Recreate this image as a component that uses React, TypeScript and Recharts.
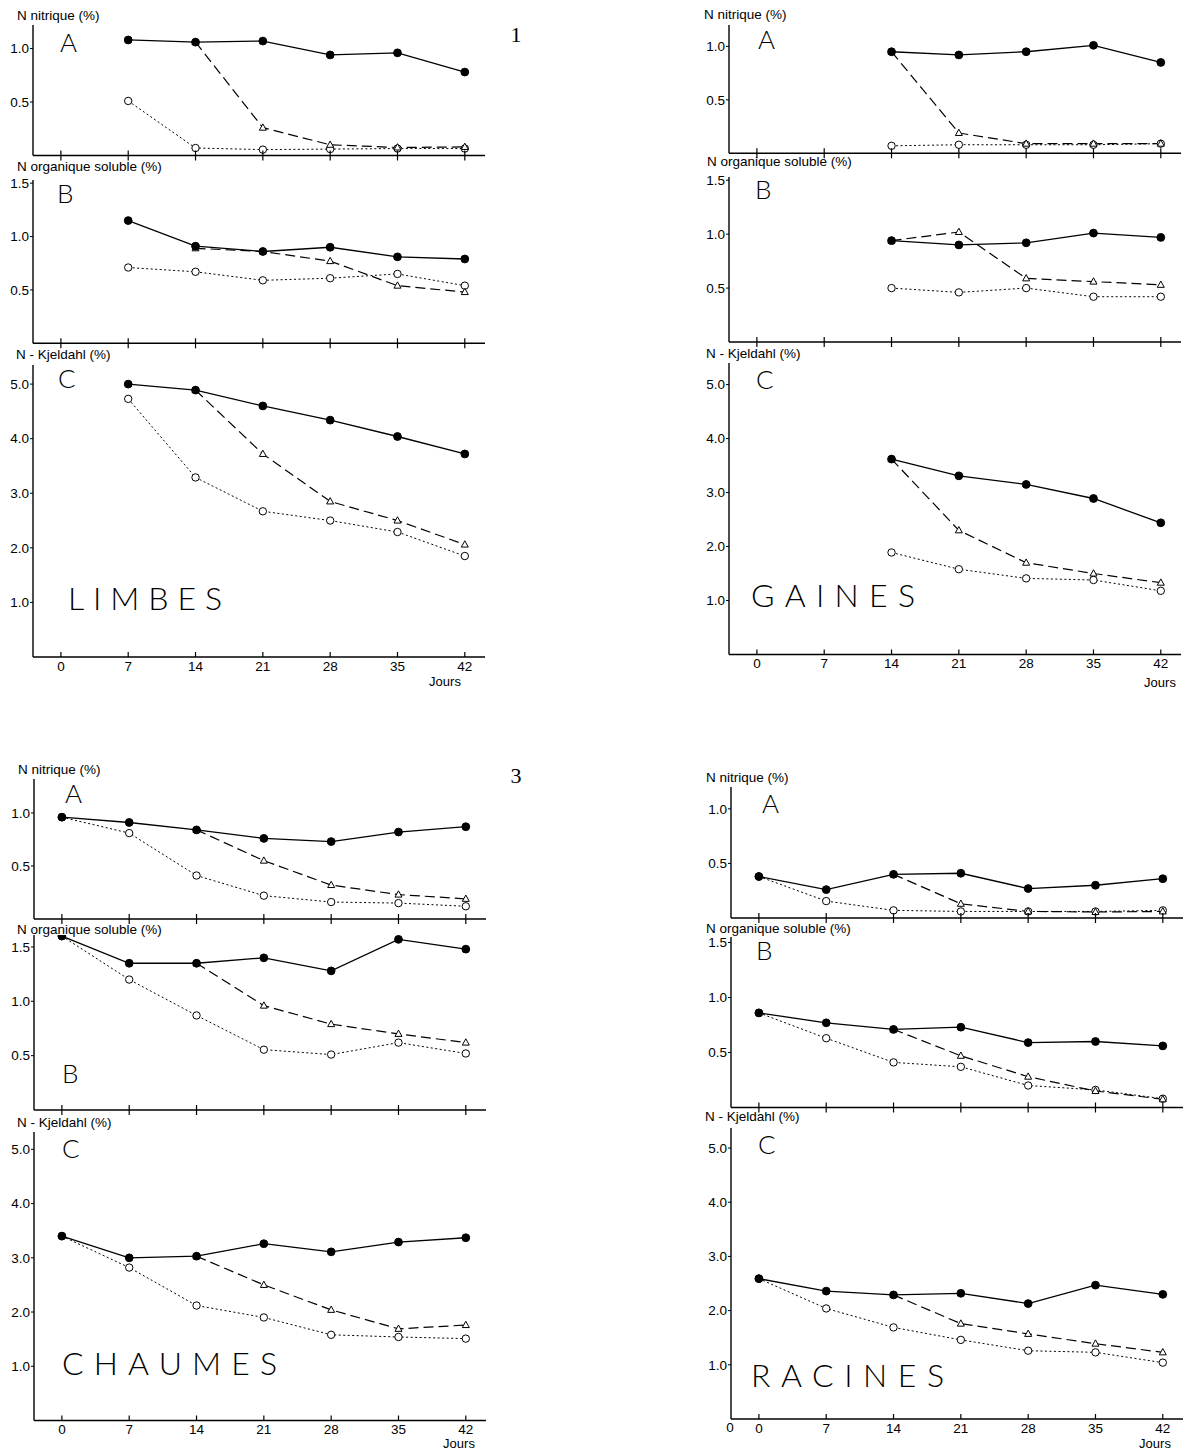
import { LineChart, Line, XAxis, YAxis } from 'recharts';

// jours de prélèvement
const days = [0, 7, 14, 21, 28, 35, 42];

// plein = ●, tri = △ (tirets), rond = ○ (pointillés)
const limbesNitPlein = [null, 1.08, 1.06, 1.07, 0.94, 0.96, 0.78];
const limbesNitTri = [null, null, 1.06, 0.26, 0.1, 0.075, 0.08];
const limbesNitRond = [null, 0.51, 0.07, 0.055, 0.06, 0.065, 0.065];
const limbesOrgPlein = [null, 1.15, 0.91, 0.86, 0.9, 0.81, 0.79];
const limbesOrgTri = [null, null, 0.89, 0.86, 0.77, 0.54, 0.48];
const limbesOrgRond = [null, 0.71, 0.67, 0.59, 0.61, 0.65, 0.54];
const limbesKjPlein = [null, 5.0, 4.89, 4.6, 4.34, 4.04, 3.72];
const limbesKjTri = [null, null, 4.89, 3.72, 2.85, 2.5, 2.06];
const limbesKjRond = [null, 4.73, 3.29, 2.67, 2.5, 2.29, 1.85];

const gainesNitPlein = [null, null, 0.95, 0.92, 0.95, 1.01, 0.85];
const gainesNitTri = [null, null, 0.95, 0.19, 0.09, 0.09, 0.09];
const gainesNitRond = [null, null, 0.07, 0.08, 0.08, 0.08, 0.09];
const gainesOrgPlein = [null, null, 0.94, 0.9, 0.92, 1.01, 0.97];
const gainesOrgTri = [null, null, 0.94, 1.02, 0.59, 0.56, 0.53];
const gainesOrgRond = [null, null, 0.5, 0.46, 0.5, 0.42, 0.42];
const gainesKjPlein = [null, null, 3.62, 3.31, 3.15, 2.89, 2.44];
const gainesKjTri = [null, null, 3.62, 2.3, 1.7, 1.5, 1.33];
const gainesKjRond = [null, null, 1.89, 1.58, 1.41, 1.38, 1.18];

const chaumesNitPlein = [0.96, 0.91, 0.84, 0.76, 0.73, 0.82, 0.87];
const chaumesNitTri = [null, null, 0.84, 0.55, 0.32, 0.23, 0.19];
const chaumesNitRond = [0.96, 0.81, 0.41, 0.22, 0.16, 0.15, 0.12];
const chaumesOrgPlein = [1.6, 1.35, 1.35, 1.4, 1.28, 1.57, 1.48];
const chaumesOrgTri = [null, null, 1.35, 0.96, 0.79, 0.7, 0.62];
const chaumesOrgRond = [1.6, 1.2, 0.87, 0.555, 0.51, 0.62, 0.52];
const chaumesKjPlein = [3.4, 3.0, 3.03, 3.26, 3.11, 3.29, 3.37];
const chaumesKjTri = [null, null, 3.03, 2.5, 2.04, 1.69, 1.76];
const chaumesKjRond = [3.4, 2.82, 2.12, 1.9, 1.58, 1.54, 1.51];

const racinesNitPlein = [0.38, 0.26, 0.4, 0.41, 0.27, 0.3, 0.36];
const racinesNitTri = [null, null, 0.4, 0.13, 0.06, 0.055, 0.06];
const racinesNitRond = [0.38, 0.155, 0.07, 0.06, 0.06, 0.06, 0.07];
const racinesOrgPlein = [0.86, 0.77, 0.71, 0.73, 0.59, 0.6, 0.56];
const racinesOrgTri = [null, null, 0.71, 0.47, 0.28, 0.15, 0.075];
const racinesOrgRond = [0.86, 0.63, 0.41, 0.37, 0.2, 0.16, 0.08];
const racinesKjPlein = [2.59, 2.36, 2.29, 2.32, 2.13, 2.47, 2.3];
const racinesKjTri = [null, null, 2.29, 1.76, 1.57, 1.39, 1.23];
const racinesKjRond = [2.59, 2.04, 1.69, 1.46, 1.26, 1.23, 1.04];

const ticksA = [0.5, 1.0];
const ticksB = [0.5, 1.0, 1.5];
const ticksC = [1, 2, 3, 4, 5];

const SANS = "'Liberation Sans', Arial, sans-serif";
const THIN = "Lato, 'Noto Sans', sans-serif";
const X_DOMAIN = [-2.9, 44.1];
const PLOT_W = 452;
const Y_W = 40;
const TOP_PAD = 8;

type Box = { top: number; bottom: number; max: number };
type Series = (number | null)[];

function rows(plein: Series, tri: Series, rond: Series) {
  return days.map((d, i) => ({ day: d, plein: plein[i], tri: tri[i], rond: rond[i] }));
}

const triDot = (p: any) => {
  const { cx, cy, index, value } = p;
  if (cx == null || cy == null || value == null) return <g key={`t${index}`} />;
  return (
    <polygon
      key={`t${index}`}
      points={`${cx},${cy - 3.8} ${cx - 3.5},${cy + 2.5} ${cx + 3.5},${cy + 2.5}`}
      fill="#fff"
      stroke="#000"
      strokeWidth={1}
      strokeDasharray="none"
    />
  );
};

function SubChart({ left, box, ticks, plein, tri, rond, labelled }: {
  left: number; box: Box; ticks: number[]; plein: Series; tri: Series; rond: Series; labelled: boolean;
}) {
  const h = box.bottom - box.top;
  return (
    <div style={{ position: 'absolute', left: left - Y_W, top: box.top - TOP_PAD }}>
      <LineChart
        width={Y_W + PLOT_W + 4}
        height={TOP_PAD + h + 26}
        data={rows(plein, tri, rond)}
        margin={{ top: TOP_PAD, right: 4, bottom: 0, left: 0 }}
      >
        <XAxis
          dataKey="day"
          type="number"
          domain={X_DOMAIN}
          ticks={days}
          allowDataOverflow
          height={26}
          tickSize={0}
          tickMargin={0}
          tickLine={false}
          axisLine={{ stroke: '#000', strokeWidth: 1.4 }}
          tick={(p: any) => (
            <g key={`x${p.payload.value}`}>
              <line
                x1={p.x}
                x2={p.x}
                y1={p.y - 5}
                y2={labelled ? p.y : p.y + 5}
                stroke="#000"
                strokeWidth={1.2}
              />
              {labelled && (
                <text x={p.x} y={p.y + 13.5} textAnchor="middle" fontSize={13.5} fontFamily={SANS} fill="#000">
                  {p.payload.value}
                </text>
              )}
            </g>
          )}
        />
        <YAxis
          type="number"
          domain={[0, box.max]}
          ticks={ticks}
          allowDataOverflow
          width={Y_W}
          tickSize={3}
          tickMargin={1}
          tickFormatter={(v: number) => v.toFixed(1)}
          tick={{ fontSize: 13.5, fill: '#000', fontFamily: SANS }}
          tickLine={{ stroke: '#000' }}
          axisLine={{ stroke: '#000', strokeWidth: 1.4 }}
        />
        <Line
          dataKey="rond"
          type="linear"
          stroke="#000"
          strokeWidth={1}
          strokeDasharray="2 2.5"
          dot={{ r: 3.7, fill: '#fff', stroke: '#000', strokeWidth: 1, strokeDasharray: 'none' }}
          isAnimationActive={false}
        />
        <Line
          dataKey="tri"
          type="linear"
          stroke="#000"
          strokeWidth={1.2}
          strokeDasharray="10 5"
          dot={triDot}
          isAnimationActive={false}
        />
        <Line
          dataKey="plein"
          type="linear"
          stroke="#000"
          strokeWidth={1.3}
          dot={{ r: 3.9, fill: '#000', stroke: '#000', strokeWidth: 1 }}
          isAnimationActive={false}
        />
      </LineChart>
    </div>
  );
}

const panels = [
  {
    name: 'LIMBES',
    left: 33.4,
    a: { top: 25, bottom: 155.5, max: 1.22 },
    b: { top: 180, bottom: 343.3, max: 1.53 },
    c: { top: 365, bottom: 657, max: 5.35 },
    nit: [limbesNitPlein, limbesNitTri, limbesNitRond],
    org: [limbesOrgPlein, limbesOrgTri, limbesOrgRond],
    kj: [limbesKjPlein, limbesKjTri, limbesKjRond],
    lab: { nit: [17, 19.5], org: [17, 170.5], kj: [16, 359], A: [60, 52], B: [57, 203], C: [58, 388], organ: [68, 610, 154], jours: [445, 686] },
  },
  {
    name: 'GAINES',
    left: 728.5,
    a: { top: 25, bottom: 153.3, max: 1.2 },
    b: { top: 177, bottom: 342, max: 1.53 },
    c: { top: 363, bottom: 654.5, max: 5.4 },
    nit: [gainesNitPlein, gainesNitTri, gainesNitRond],
    org: [gainesOrgPlein, gainesOrgTri, gainesOrgRond],
    kj: [gainesKjPlein, gainesKjTri, gainesKjRond],
    lab: { nit: [704, 18.5], org: [707, 166], kj: [706, 357.5], A: [758, 48.5], B: [755, 199], C: [756, 389], organ: [751, 607, 164], jours: [1160, 686.5] },
  },
  {
    name: 'CHAUMES',
    left: 34.2,
    a: { top: 779, bottom: 919, max: 1.32 },
    b: { top: 935, bottom: 1110, max: 1.61 },
    c: { top: 1132, bottom: 1420.5, max: 5.32 },
    nit: [chaumesNitPlein, chaumesNitTri, chaumesNitRond],
    org: [chaumesOrgPlein, chaumesOrgTri, chaumesOrgRond],
    kj: [chaumesKjPlein, chaumesKjTri, chaumesKjRond],
    lab: { nit: [18, 774], org: [17, 934], kj: [17, 1126.5], A: [65, 803], B: [62, 1083], C: [62, 1157.5], organ: [62, 1375, 215], jours: [459, 1447.5] },
  },
  {
    name: 'RACINES',
    left: 730.5,
    a: { top: 787, bottom: 918, max: 1.2 },
    b: { top: 937, bottom: 1107.5, max: 1.55 },
    c: { top: 1128, bottom: 1419, max: 5.37 },
    nit: [racinesNitPlein, racinesNitTri, racinesNitRond],
    org: [racinesOrgPlein, racinesOrgTri, racinesOrgRond],
    kj: [racinesKjPlein, racinesKjTri, racinesKjRond],
    lab: { nit: [706, 782], org: [706, 932.5], kj: [705, 1121], A: [762, 812.5], B: [756, 960], C: [758, 1153.5], organ: [751, 1387, 193], jours: [1155, 1447.5] },
  },
];

export default function App() {
  return (
    <div style={{ position: 'absolute', left: 0, top: 0, width: 1184, height: 1450, background: '#fff', overflow: 'hidden' }}>
      {panels.map((p) => (
        <div key={p.name}>
          <SubChart left={p.left} box={p.a} ticks={ticksA} plein={p.nit[0]} tri={p.nit[1]} rond={p.nit[2]} labelled={false} />
          <SubChart left={p.left} box={p.b} ticks={ticksB} plein={p.org[0]} tri={p.org[1]} rond={p.org[2]} labelled={false} />
          <SubChart left={p.left} box={p.c} ticks={ticksC} plein={p.kj[0]} tri={p.kj[1]} rond={p.kj[2]} labelled />
        </div>
      ))}
      <svg width={1184} height={1450} style={{ position: 'absolute', left: 0, top: 0, pointerEvents: 'none' }}>
        {panels.map((p) => (
          <g key={p.name} fill="#000">
            <text x={p.lab.nit[0]} y={p.lab.nit[1]} fontSize={13.5} fontFamily={SANS}>N nitrique (%)</text>
            <text x={p.lab.org[0]} y={p.lab.org[1]} fontSize={13.5} fontFamily={SANS}>N organique soluble (%)</text>
            <text x={p.lab.kj[0]} y={p.lab.kj[1]} fontSize={13.5} fontFamily={SANS}>N - Kjeldahl (%)</text>
            <text x={p.lab.A[0]} y={p.lab.A[1]} fontSize={26} fontWeight={300} fontFamily={THIN}>A</text>
            <text x={p.lab.B[0]} y={p.lab.B[1]} fontSize={26} fontWeight={300} fontFamily={THIN}>B</text>
            <text x={p.lab.C[0]} y={p.lab.C[1]} fontSize={26} fontWeight={300} fontFamily={THIN}>C</text>
            <text
              x={p.lab.organ[0]}
              y={p.lab.organ[1]}
              fontSize={32}
              fontWeight={300}
              fontFamily={THIN}
              textLength={p.lab.organ[2]}
              lengthAdjust="spacing"
            >
              {p.name}
            </text>
            <text x={p.lab.jours[0]} y={p.lab.jours[1]} fontSize={13} textAnchor="middle" fontFamily={SANS}>Jours</text>
          </g>
        ))}
        <text x={730} y={1432} fontSize={13.5} textAnchor="middle" fontFamily={SANS}>0</text>
        <text x={516} y={42} fontSize={22} textAnchor="middle" fontFamily="'Liberation Serif', serif">1</text>
        <text x={516} y={783} fontSize={22} textAnchor="middle" fontFamily="'Liberation Serif', serif">3</text>
      </svg>
    </div>
  );
}
